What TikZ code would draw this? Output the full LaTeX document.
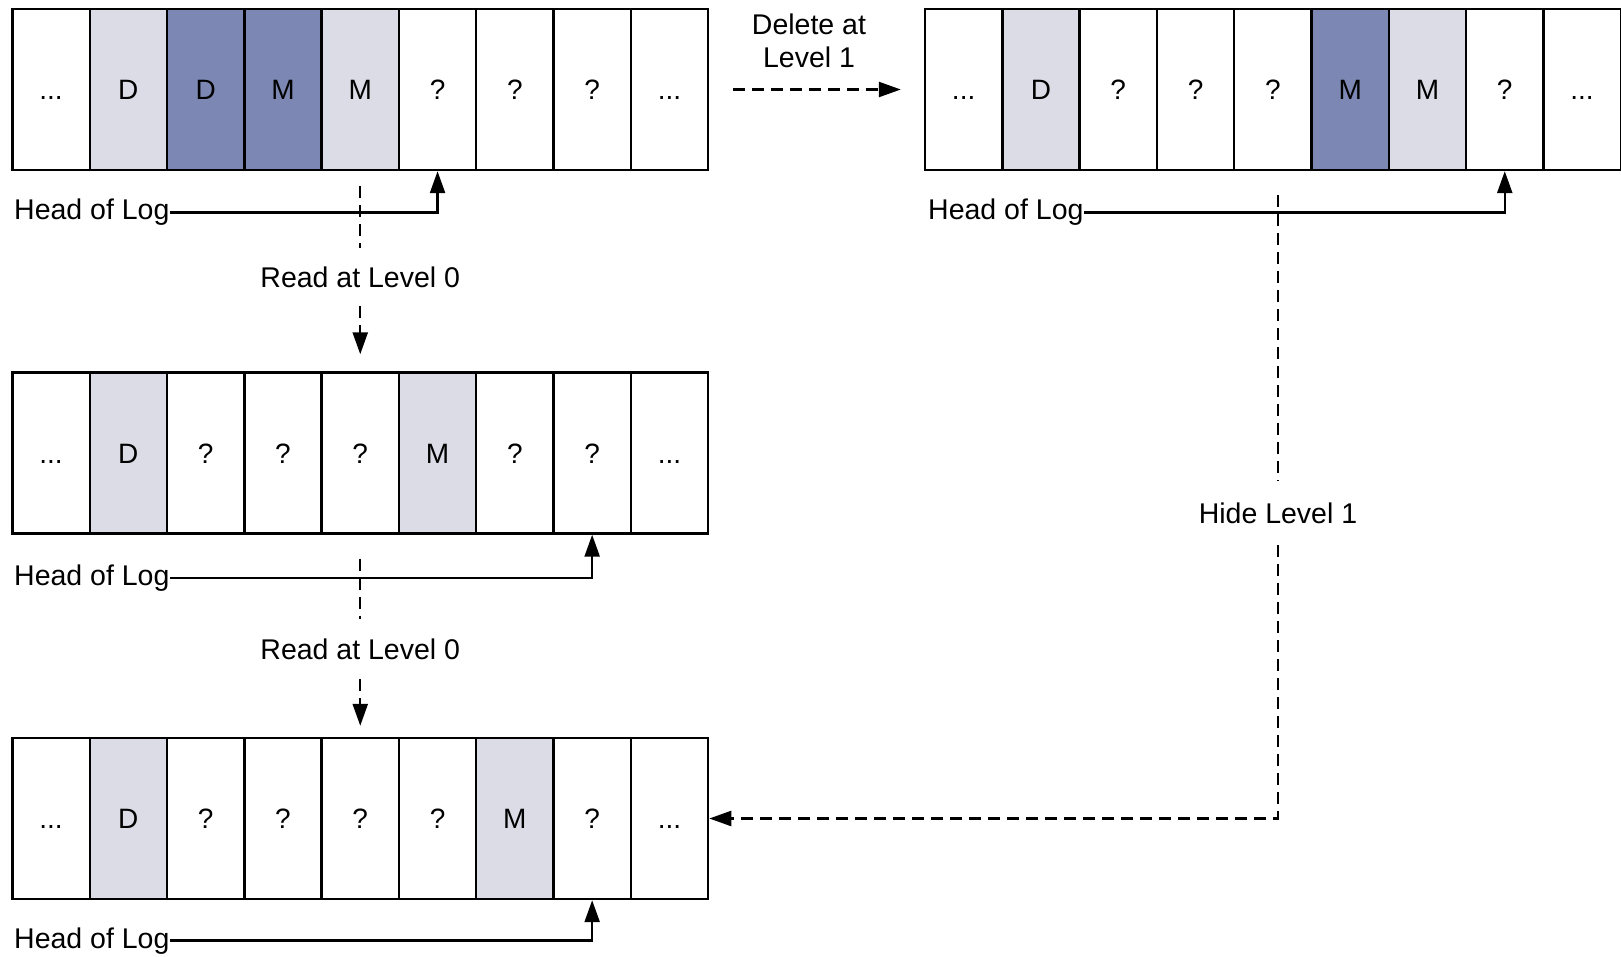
\documentclass[tikz,border=0pt]{standalone}
\usepackage{fontspec}
\setmainfont{Liberation Sans}
\usetikzlibrary{arrows.meta}
\definecolor{lightc}{RGB}{219,220,229}
\definecolor{darkc}{RGB}{124,136,179}
\newcommand{\elp}{...}
\tikzset{
  cell/.style={draw=black, line width=2.4pt, minimum width=77.3pt, minimum height=161pt,
    inner sep=0pt, font=\fontsize{28}{32}\selectfont, text height=20.2pt, text depth=0pt},
  w/.style={fill=white},
  lt/.style={fill=lightc},
  dk/.style={fill=darkc},
  lbl/.style={font=\fontsize{28.5}{33}\selectfont, inner sep=0pt},
  mid/.style={lbl, text height=20.5pt, text depth=0pt},
  tip/.style={-{Triangle[length=22pt,width=15pt]}},
  dsh/.style={dash pattern=on 12pt off 7pt, line width=2.4pt},
  ptr/.style={line width=2.4pt},
}
\begin{document}
\begin{tikzpicture}
\useasboundingbox (0,0) rectangle (1621pt,-957pt);
% row 1 (top left)
\foreach \t/\s [count=\i] in {\elp/w,D/lt,D/dk,M/dk,M/lt,?/w,?/w,?/w,\elp/w}
  \node[cell,\s] (a\i) at ({(12.4+(\i-0.5)*77.3)*1pt}, -89.5pt) {\t};
% top right
\foreach \t/\s [count=\i] in {\elp/w,D/lt,?/w,?/w,?/w,M/dk,M/lt,?/w,\elp/w}
  \node[cell,\s] (c\i) at ({(925+(\i-0.5)*77.3)*1pt}, -89.5pt) {\t};
% row 2
\foreach \t/\s [count=\i] in {\elp/w,D/lt,?/w,?/w,?/w,M/lt,?/w,?/w,\elp/w}
  \node[cell,\s] (b\i) at ({(12.4+(\i-0.5)*77.3)*1pt}, -453pt) {\t};
% row 3
\foreach \t/\s [count=\i] in {\elp/w,D/lt,?/w,?/w,?/w,?/w,M/lt,?/w,\elp/w}
  \node[cell,\s] (d\i) at ({(12.4+(\i-0.5)*77.3)*1pt}, -818.5pt) {\t};

% Head of Log pointers
\node[lbl, anchor=base west] (h1) at (14pt,-220pt) {Head of Log};
\node[lbl, anchor=base west] (h2) at (14pt,-585.5pt) {Head of Log};
\node[lbl, anchor=base west] (h3) at (14pt,-948pt) {Head of Log};
\node[lbl, anchor=base west] (h4) at (928pt,-220pt) {Head of Log};
\draw[ptr,tip] (h1.east) -| (a6.south);
\draw[ptr,tip] (h2.east) -| (b8.south);
\draw[ptr,tip] (h3.east) -| (d8.south);
\draw[ptr,tip] (h4.east) -| (c8.south);

% Read at Level 0 (1)
\node[mid, inner ysep=19pt] (r1) at (a5.south |- 0,-277pt) {Read at Level 0};
\draw[dsh, shorten <=15pt] (a5.south) -- (r1.north);
\draw[dsh, tip, shorten >=17pt] (r1.south) -- (b5.north);

% Read at Level 0 (2)
\node[mid, inner ysep=20pt] (r2) at (b5.south |- 0,-649pt) {Read at Level 0};
\draw[dsh, shorten <=24pt] (b5.south) -- (r2.north);
\draw[dsh, tip, shorten >=11pt] (r2.south) -- (d5.north);

% Delete at Level 1
\node[lbl, align=center] (del) at (809pt,-40.5pt) {Delete at\\Level 1};
\draw[dsh, tip, shorten <=24pt, shorten >=23pt] (a9.east) -- (c1.west);

% Hide Level 1
\node[mid, inner ysep=22pt] (hide) at (1278pt,-513pt) {Hide Level 1};
\draw[dsh, shorten <=24pt] (hide.north |- c5.south) -- (hide.north);
\draw[dsh, tip] (hide.south) |- (d9.east);
\end{tikzpicture}
\end{document}
